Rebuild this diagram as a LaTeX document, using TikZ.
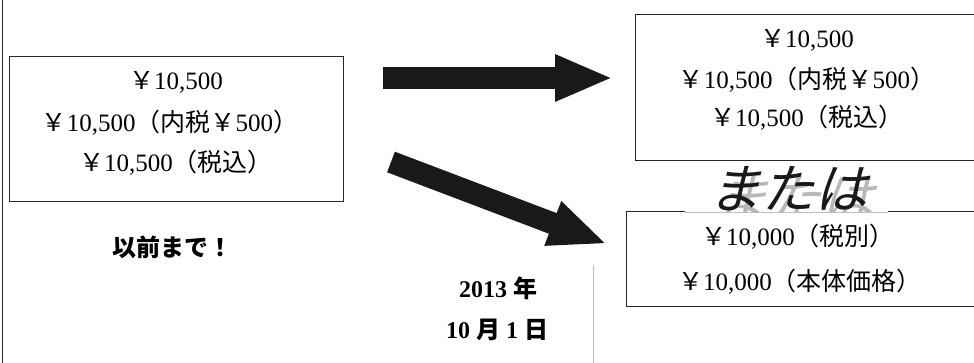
\documentclass[tikz,border=0pt]{standalone}
\usepackage{fontspec}
\setmainfont{Liberation Serif}
\newfontfamily\jp{Noto Sans CJK JP}
\newfontfamily\jpsl{Noto Sans CJK JP}[FakeSlant=0.25]
\usetikzlibrary{arrows.meta}
\newcommand\Yn{{\jp ￥}}
\newcommand\Jp[1]{{\jp #1}}
\begin{document}
\begin{tikzpicture}[x=1pt,y=-1pt,
  price/.style={font=\fontsize{25}{28}\selectfont, inner sep=0pt, anchor=center},
  frame/.style={draw=black!85, line width=1pt},
  bigarrow/.style={line width=22pt, draw=black!90, line cap=butt, -{Triangle[length=58pt,width=43pt]}},
  datetext/.style={font=\fontsize{24}{28}\selectfont\bfseries, inner sep=0pt},
  wordart/.style={font=\jpsl\fontsize{53}{56}\selectfont, inner sep=0pt}]
\useasboundingbox (0,0) rectangle (974,363);
\clip (0,0) rectangle (974,363);
% left border
\coordinate (lt) at (2.5,0); \coordinate (lb) at (2.5,363);
\draw[black!85, line width=1pt] (lt) -- (lb);
% left box
\node[frame, minimum width=334pt, minimum height=145pt, inner sep=0pt] (oldbox) at (176,129.5) {};
\node[price] (o1) at (176,82) {\Yn10,500};
\node[price] (o2) at (170,123) {\Yn10,500\Jp{（内税}\Yn500\Jp{）}};
\node[price] (o3) at (176,163) {\Yn10,500\Jp{（税込）}};
\node[font=\jp\bfseries\fontsize{24}{28}\selectfont, inner sep=0pt] (before) at (172,247) {以前まで！};
% date
\node[datetext] (year) at (498,288) {2013 \Jp{年}};
\node[datetext] (day) at (497,330) {10 \Jp{月} 1 \Jp{日}};
\coordinate (vt) at (593,265); \coordinate (vb) at (593,363);
\draw[black!25, line width=0.8pt] (vt) -- (vb);
% right top box
\node[frame, minimum width=355pt, minimum height=146pt, inner sep=0pt] (newbox) at (812.5,88) {};
\node[price] (n1) at (807,40) {\Yn10,500};
\node[price] (n2) at (807,80) {\Yn10,500\Jp{（内税}\Yn500\Jp{）}};
\node[price] (n3) at (807,118) {\Yn10,500\Jp{（税込）}};
% または
\begin{scope}
\clip (600,150) rectangle (974,212);
\node[wordart, text=black!28] (orshadow) at (795,199) {または};
\end{scope}
\node[wordart, text=black!90] (or) at (788,189) {または};
% right bottom box
\coordinate (b1) at (685,212); \coordinate (b2) at (626,212); \coordinate (b3) at (626,306); \coordinate (b4) at (990,306);
\coordinate (b5) at (888,212); \coordinate (b6) at (990,212);
\draw[frame] (b1) -- (b2) -- (b3) -- (b4);
\draw[frame] (b5) -- (b6);
\draw[black!25, line width=0.8pt] (b1) -- (b5);
\node[price] (m1) at (798,237) {\Yn10,000\Jp{（税別）}};
\node[price] (m2) at (800,282) {\Yn10,000\Jp{（本体価格）}};
% arrows
\coordinate (h1) at (383,78); \coordinate (h2) at (613,78);
\coordinate (d1) at (391,162); \coordinate (d2) at (607,244);
\draw[bigarrow] (h1) -- (h2);
\draw[bigarrow] (d1) -- (d2);
\end{tikzpicture}
\end{document}
